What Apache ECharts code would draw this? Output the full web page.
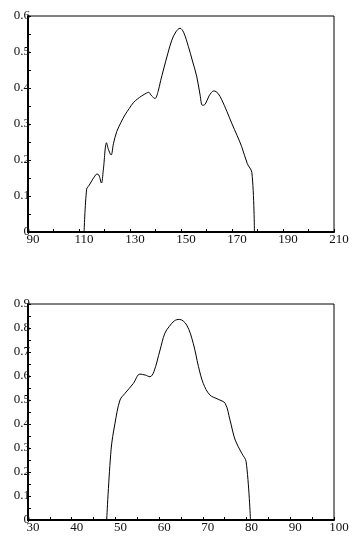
<!DOCTYPE html>
<html>
<head>
<meta charset="utf-8">
<script src="https://cdn.jsdelivr.net/npm/echarts@6/dist/echarts.min.js"></script>
<style>
html,body{margin:0;padding:0;background:#fff;}
#c{width:349px;height:539px;}
</style>
</head>
<body>
<div id="c"></div>
<script>
// Top chart data
const topX = [112,113,114,115,116,117,117.8,118.8,119.5,120.8,121.5,122.6,123.5,124.8,126.5,128,129.7,131.3,133,134.6,136.5,137.3,138.5,139.8,141,142,143.1,144.8,146.4,148,149.6,151,152.9,154.5,156.2,157.5,158.4,159.5,161,162.9,164.5,166,168,169.9,172,173.8,176,177.8,178.8];
const topY = [0,0.119,0.13,0.142,0.153,0.161,0.158,0.136,0.17,0.248,0.23,0.214,0.245,0.279,0.305,0.325,0.343,0.359,0.37,0.378,0.386,0.388,0.378,0.371,0.39,0.42,0.45,0.495,0.533,0.556,0.566,0.555,0.515,0.475,0.431,0.38,0.352,0.355,0.378,0.392,0.385,0.367,0.335,0.302,0.268,0.237,0.19,0.165,0];
// Bottom chart data
const botX = [48,49,49.9,51.05,52.2,54.1,55.6,56.8,57.9,58.8,60.2,61.3,62.3,63.5,64.6,66.3,67.8,69,70.1,71.6,73.5,75.1,76.2,77.4,78.9,79.9,80.9];
const botY = [0,0.292,0.403,0.5,0.528,0.569,0.608,0.604,0.597,0.618,0.708,0.778,0.806,0.83,0.836,0.8125,0.736,0.639,0.569,0.521,0.503,0.486,0.417,0.333,0.278,0.243,0];
// Axis ranges / ticks
const topXMin = 90, topXMax = 210, topXStep = 20;
const topYMin = 0, topYMax = 0.6, topYStep = 0.1;
const botXMin = 30, botXMax = 100, botXStep = 10;
const botYMin = 0, botYMax = 0.9, botYStep = 0.1;

const font = 'Liberation Serif';
function xAxis(idx, min, max, step, minorSplit) {
  return {
    type: 'value', gridIndex: idx, min: min, max: max, interval: step,
    axisLine: {show: true, onZero: false, lineStyle: {color: '#000', width: 2}},
    axisTick: {show: true, inside: true, length: 3, lineStyle: {color: '#000'}},
    minorTick: {show: true, splitNumber: minorSplit, length: 3, lineStyle: {color: '#000'}},
    splitLine: {show: false},
    axisLabel: {show: true, margin: 1, fontFamily: font, fontSize: 13, color: '#111', padding: [0,0,0,10]}
  };
}
function yAxis(idx, min, max, step) {
  return {
    type: 'value', gridIndex: idx, min: min, max: max, interval: step,
    axisLine: {show: true, lineStyle: {color: '#000', width: 2}},
    axisTick: {show: true, inside: true, length: 3, lineStyle: {color: '#000'}},
    minorTick: {show: true, splitNumber: 2, length: 3, lineStyle: {color: '#000'}},
    splitLine: {show: false},
    axisLabel: {show: true, margin: -2, fontFamily: font, fontSize: 13, color: '#111', padding: [0,0,4,0],
      formatter: v => String(Math.round(v*10)/10)}
  };
}
const chart = echarts.init(document.getElementById('c'), null, {renderer: 'canvas'});
chart.setOption({
  animation: false,
  backgroundColor: '#fff',
  grid: [
    {left: 28, top: 16, width: 306, height: 216, show: true, borderColor: '#000', borderWidth: 1, backgroundColor: 'transparent', containLabel: false, outerBoundsMode: 'none'},
    {left: 28, top: 304, width: 306, height: 216, show: true, borderColor: '#000', borderWidth: 1, backgroundColor: 'transparent', containLabel: false, outerBoundsMode: 'none'}
  ],
  xAxis: [xAxis(0, topXMin, topXMax, topXStep, 2), xAxis(1, botXMin, botXMax, botXStep, 2)],
  yAxis: [yAxis(0, topYMin, topYMax, topYStep), yAxis(1, botYMin, botYMax, botYStep)],
  series: [
    {type: 'line', xAxisIndex: 0, yAxisIndex: 0, data: topX.map((x,i)=>[x, topY[i]]), showSymbol: false, smooth: 0.35,
     lineStyle: {color: '#000', width: 1}},
    {type: 'line', xAxisIndex: 1, yAxisIndex: 1, data: botX.map((x,i)=>[x, botY[i]]), showSymbol: false, smooth: 0.35,
     lineStyle: {color: '#000', width: 1}}
  ]
});
</script>
</body>
</html>
